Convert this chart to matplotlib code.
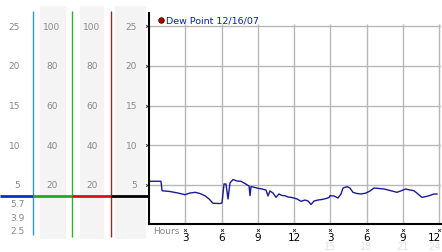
import matplotlib.pyplot as plt
from matplotlib.patches import Rectangle
from matplotlib.transforms import blended_transform_factory

# dew point readings over the day (hours since midnight, deg C)
hours = [0.08, 0.99, 1.08, 1.74, 2.40, 2.98, 3.39, 3.81, 4.22, 4.63, 4.97, 5.30,
         5.88, 6.04, 6.21, 6.37, 6.54, 6.70, 6.95, 7.28, 7.61, 7.94, 8.28, 8.36,
         8.44, 8.77, 9.02, 9.35, 9.68, 9.85, 10.01, 10.26, 10.51, 10.76, 11.01,
         11.26, 11.50, 11.75, 12.00, 12.25, 12.58, 12.91, 13.16, 13.41, 13.66,
         13.99, 14.32, 14.65, 14.90, 14.98, 15.31, 15.64, 15.89, 16.06, 16.39,
         16.63, 16.88, 17.21, 17.55, 17.96, 18.29, 18.62, 19.03, 19.45, 19.94,
         20.52, 20.94, 21.24, 21.60, 21.93, 22.26, 22.59, 22.93, 23.17, 23.59, 23.83]
dew_point = [5.47, 5.47, 4.28, 4.18, 3.99, 3.78, 3.99, 4.08, 3.93, 3.65, 3.24, 2.70,
             2.67, 2.74, 5.13, 5.13, 3.24, 5.25, 5.69, 5.50, 5.47, 5.19, 4.87, 3.65,
             4.81, 4.69, 4.58, 4.50, 4.37, 3.62, 4.25, 3.99, 3.45, 3.87, 3.68,
             3.65, 3.49, 3.45, 3.36, 3.24, 2.95, 3.11, 2.99, 2.55, 2.99,
             3.11, 3.18, 3.30, 3.43, 3.65, 3.62, 3.36, 3.87, 4.62, 4.79,
             4.62, 4.08, 3.93, 3.87, 3.99, 4.25, 4.62, 4.56, 4.50, 4.31,
             4.08, 4.31, 4.50, 4.37, 4.28, 3.87, 3.45, 3.55, 3.65, 3.87, 3.87]

grid_hours = [3, 6, 9, 12, 15, 18, 21, 24]
hour_labels = ["3", "6", "9", "12", "3", "6", "9", "12"]
faint_hours = [15, 18, 21, 24]
faint_labels = ["15", "18", "21", "24"]
temp_ticks = [5, 10, 15, 20, 25]
humid_ticks = [20, 40, 60, 80, 100]
stat_labels = ["5.7", "3.9", "2.5"]
current_value = 3.6

W, H = 442, 253
PX_PER_UNIT = 7.95
ZERO_PX = 225.75


def val(p):
    """pixel row -> dew point value"""
    return (ZERO_PX - p) / PX_PER_UNIT


def fy(p):
    return 1 - p / H


fig = plt.figure(figsize=(W / 100, H / 100), dpi=100)
fig.patch.set_facecolor("white")

# left scale panels
axl = fig.add_axes([0, 0, 149 / W, 1])
axl.set_xlim(0, 149)
axl.set_ylim(val(H), val(0))
axl.axis("off")
for x0, x1 in [(40, 66), (80, 104), (115, 146)]:
    axl.add_patch(Rectangle((x0, val(240)), x1 - x0, val(7) - val(240),
                            color="#f4f4f4", lw=0))
axl.vlines(33, val(236), val(12), color="#3399cc", lw=1)
axl.vlines(72, val(238), val(12), color="#33aa33", lw=1)
axl.vlines(111, val(238), val(12), color="#aa2222", lw=1)
for x0, x1, c in [(0, 33, "#0033cc"), (33, 72, "#22aa22"),
                  (72, 111, "#dd1111"), (111, 149, "black")]:
    axl.hlines(current_value, x0, x1, color=c, lw=2)
lab = dict(fontsize=6.5, color="#888888", va="center")
for t, h in zip(temp_ticks, humid_ticks):
    axl.text(20, t, str(t), ha="right", **lab)
    axl.text(52, t, str(h), ha="center", **lab)
    axl.text(92, t, str(h), ha="center", **lab)
    axl.text(137, t, str(t), ha="right", **lab)
for s, p in zip(stat_labels, [205, 219, 232]):
    axl.text(25, val(p), s, ha="right", **lab)

# main plot
xmax = 24 * (441 - 149) / 290
ax = fig.add_axes([149 / W, fy(225), (441 - 149) / W, (225 - 14) / H])
ax.set_xlim(0, xmax)
ax.set_ylim(val(225), val(14))
ax.hlines(temp_ticks, 0, xmax, color="#b8b8b8", lw=1)
ax.vlines(grid_hours, 0, val(25), color="#b8b8b8", lw=1)
ax.plot(hours, dew_point, color="#1a1a99", lw=1)
for s in ["top", "right"]:
    ax.spines[s].set_visible(False)
for s in ["left", "bottom"]:
    ax.spines[s].set_linewidth(1.5)
    ax.spines[s].set_color("black")
ax.set_xticks([])
ax.set_yticks([])
ax.plot([-0.17] * len(temp_ticks), temp_ticks, "x", ms=2, mew=0.6,
        color="#333333", clip_on=False)

tr = blended_transform_factory(ax.transData, fig.transFigure)
ax.plot(grid_hours, [fy(230.5)] * len(grid_hours), "x", ms=2, mew=0.6,
        color="#333333", transform=tr, clip_on=False)
for i, (h, s) in enumerate(zip(grid_hours, hour_labels)):
    last = i == len(grid_hours) - 1
    ax.text(xmax if last else h, fy(238), s, ha="right" if last else "center",
            va="center", fontsize=7.5, color="black", transform=tr)
for i, (h, s) in enumerate(zip(faint_hours, faint_labels)):
    last = i == len(faint_hours) - 1
    ax.text(xmax if last else h, fy(247.5), s, ha="right" if last else "center",
            va="center", fontsize=7, color="#e2e2e2", transform=tr)
ax.text(0.33, fy(232), "Hours", ha="left", va="center", fontsize=6.5,
        color="#888888", transform=tr)

# legend label
ax.plot(1.0, val(20.7), "o", ms=4, color="#aa0000", mec="#550000", mew=0.6,
        clip_on=False)
ax.text(1.38, val(20.7), "Dew Point 12/16/07", ha="left", va="center",
        fontsize=6.8, color="#0022bb")

fig.savefig("out.png", dpi=100, facecolor="white")
